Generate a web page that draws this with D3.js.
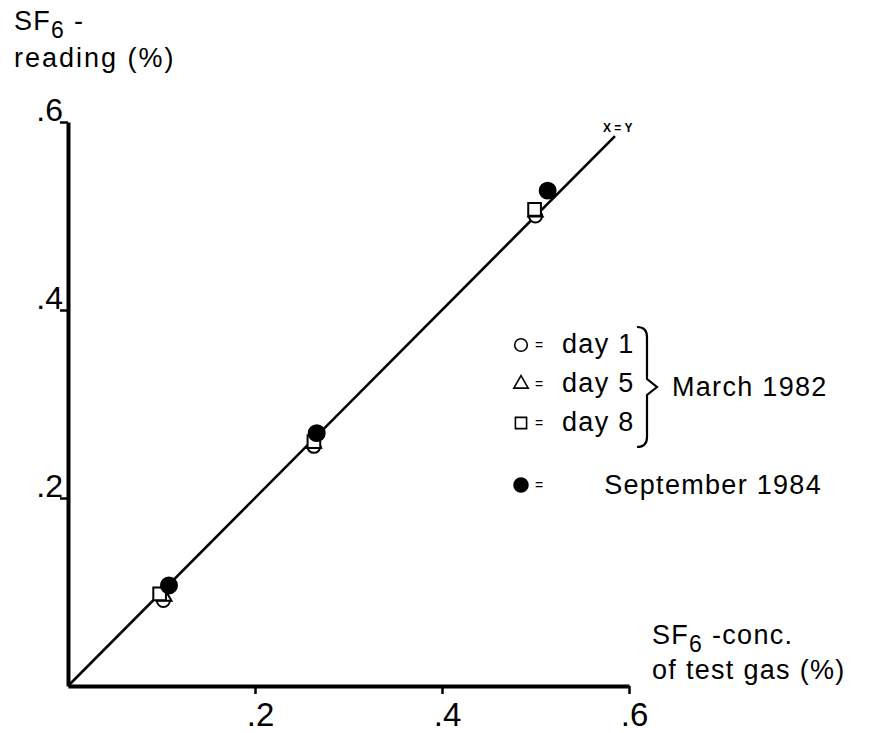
<!DOCTYPE html>
<html>
<head>
<meta charset="utf-8">
<script src="https://cdn.jsdelivr.net/npm/d3@7"></script>
<style>
  body { margin: 0; background: #fff; }
  svg { display: block; font-family: "Liberation Sans", Arial, Helvetica, sans-serif; }
  .lbl { font-size: 27px; letter-spacing: 1.3px; fill: #000; }
  .sub { font-size: 23px; }
</style>
</head>
<body>
<svg id="chart" width="871" height="733"></svg>
<script>
// values (SF6 conc. of test gas vs SF6 reading, %)
const xTicks = [0.2, 0.4, 0.6];
const yTicks = [0.2, 0.4, 0.6];

const day1Conc = [0.102, 0.263, 0.500];
const day1Reading = [0.091, 0.255, 0.500];
const day5Conc = [0.103, 0.263, 0.500];
const day5Reading = [0.095, 0.258, 0.504];
const day8Conc = [0.098, 0.263, 0.499];
const day8Reading = [0.098, 0.260, 0.507];
const sep84Conc = [0.108, 0.266, 0.513];
const sep84Reading = [0.107, 0.269, 0.527];

const identityLine = [0, 0.585];

const legendRows = ['day 1', 'day 5', 'day 8'];

const svg = d3.select('#chart');

const x = d3.scaleLinear().domain([0, 0.6]).range([68, 629]);
const y = d3.scaleLinear().domain([0, 0.6]).range([686, 122]);

const fmt = (d) => d3.format('.1f')(d).replace(/^0/, '');

// axes
const xAxis = svg.append('g')
  .attr('transform', `translate(0,${y(0)})`)
  .call(d3.axisBottom(x).tickValues(xTicks).tickSize(8).tickSizeOuter(0).tickFormat(fmt));
const yAxis = svg.append('g')
  .attr('transform', `translate(${x(0)},0)`)
  .call(d3.axisLeft(y).tickValues(yTicks).tickSize(8).tickSizeOuter(0).tickFormat(fmt));

[xAxis, yAxis].forEach((g) => {
  g.select('.domain').attr('stroke', '#000').attr('stroke-width', 4);
  g.selectAll('.tick line').attr('stroke', '#000').attr('stroke-width', 2.5);
  g.selectAll('.tick text')
    .attr('fill', '#000')
    .style('font-family', '"Liberation Sans", Arial, sans-serif');
});
// labels sit on the bottom edge as in the scan; keep the glyph box inside
xAxis.selectAll('.tick text')
  .style('font-size', '33px')
  .attr('y', 40).attr('dy', 0).attr('dx', 5);
yAxis.selectAll('.tick text')
  .style('font-size', '32px')
  .attr('x', -5).attr('dy', -2);

// x = y line
svg.append('line')
  .attr('x1', x(identityLine[0])).attr('y1', y(identityLine[0]))
  .attr('x2', x(identityLine[1])).attr('y2', y(identityLine[1]))
  .attr('stroke', '#000').attr('stroke-width', 2.6);

svg.append('text')
  .attr('x', 603).attr('y', 132)
  .style('font-size', '12px').style('font-weight', 'bold')
  .text('X = Y');

// markers
const series = [
  { conc: day1Conc, reading: day1Reading, shape: d3.symbolCircle, size: 135, filled: false },
  { conc: day5Conc, reading: day5Reading, shape: d3.symbolTriangle, size: 90, filled: false },
  { conc: day8Conc, reading: day8Reading, shape: d3.symbolSquare, size: 160, filled: false },
  { conc: sep84Conc, reading: sep84Reading, shape: d3.symbolCircle, size: 200, filled: true },
];

series.forEach((s) => {
  svg.append('g')
    .selectAll('path')
    .data(s.conc.map((c, i) => [c, s.reading[i]]))
    .join('path')
    .attr('transform', (d) => `translate(${x(d[0])},${y(d[1])})`)
    .attr('d', d3.symbol().type(s.shape).size(s.size))
    .attr('fill', s.filled ? '#000' : '#fff')
    .attr('stroke', '#000')
    .attr('stroke-width', 2);
});

// axis titles
const yTitle = svg.append('text').attr('class', 'lbl').attr('x', 14).attr('y', 30);
yTitle.append('tspan').text('SF');
yTitle.append('tspan').attr('class', 'sub').attr('dy', 8).text('6');
yTitle.append('tspan').attr('dy', -8).text(' -');
svg.append('text').attr('class', 'lbl').attr('x', 14).attr('y', 67)
  .style('letter-spacing', '2px').text('reading (%)');

const xTitle = svg.append('text').attr('class', 'lbl').attr('x', 652).attr('y', 644);
xTitle.append('tspan').text('SF');
xTitle.append('tspan').attr('class', 'sub').attr('dy', 8).text('6');
xTitle.append('tspan').attr('dy', -8).text(' -conc.');
svg.append('text').attr('class', 'lbl').attr('x', 652).attr('y', 679).text('of test gas (%)');

// legend
const legend = svg.append('g');
const rowY = d3.scaleLinear().domain([0, 1]).range([353, 392]);
const legendShapes = [d3.symbolCircle, d3.symbolTriangle, d3.symbolSquare];

legendRows.forEach((label, i) => {
  const yy = rowY(i);
  legend.append('path')
    .attr('transform', `translate(521,${yy - 8})`)
    .attr('d', d3.symbol().type(legendShapes[i]).size(i === 1 ? 90 : 125))
    .attr('fill', 'none').attr('stroke', '#000').attr('stroke-width', 1.6);
  legend.append('text').attr('x', 535).attr('y', yy - 3).style('font-size', '14px').text('=');
  legend.append('text').attr('class', 'lbl').attr('x', 562).attr('y', yy).text(label);
});

// brace
const bTop = 327, bBot = 447, bx = 645, bMid = (bTop + bBot) / 2;
legend.append('path')
  .attr('d', `M${bx - 8},${bTop} Q${bx + 2},${bTop} ${bx + 2},${bTop + 10} L${bx + 2},${bMid - 8}
    L${bx + 12},${bMid} L${bx + 2},${bMid + 8} L${bx + 2},${bBot - 10} Q${bx + 2},${bBot} ${bx - 8},${bBot}`)
  .attr('fill', 'none').attr('stroke', '#000').attr('stroke-width', 2.2);
legend.append('text').attr('class', 'lbl').attr('x', 672).attr('y', 396).text('March  1982');

legend.append('path')
  .attr('transform', 'translate(521,485)')
  .attr('d', d3.symbol().type(d3.symbolCircle).size(190))
  .attr('fill', '#000');
legend.append('text').attr('x', 535).attr('y', 490).style('font-size', '14px').text('=');
legend.append('text').attr('class', 'lbl').attr('x', 822).attr('y', 494)
  .attr('text-anchor', 'end').text('September  1984');
</script>
</body>
</html>
